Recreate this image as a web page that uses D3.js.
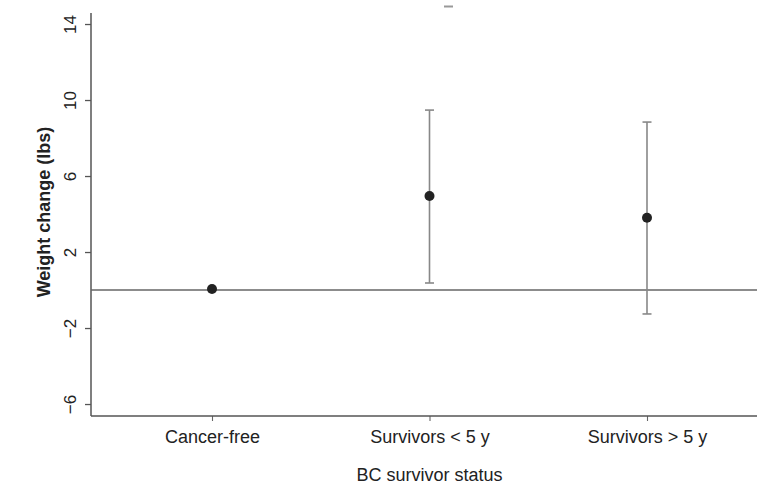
<!DOCTYPE html>
<html>
<head>
<meta charset="utf-8">
<script src="https://cdn.jsdelivr.net/npm/d3@7"></script>
<style>
  html, body { margin: 0; padding: 0; background: #fff; }
  svg { display: block; }
  text { font-family: "Liberation Sans", Arial, Helvetica, sans-serif; fill: #222; }
</style>
</head>
<body>
<svg id="chart" width="757" height="491"></svg>
<script>
// Weight change by breast cancer survivor status: point estimates with 95% CIs
const categories = ["Cancer-free", "Survivors < 5 y", "Survivors > 5 y"];
const estimates  = [0.05, 4.95, 3.8];
const ciLower    = [null, 0.37, -1.26];
const ciUpper    = [null, 9.47, 8.84];
const yTicks     = [-6, -2, 2, 6, 10, 14];
const yTickLabels = ["\u22126", "\u22122", "2", "6", "10", "14"];

const svg = d3.select("#chart");
const plotLeft = 91, plotRight = 757, plotTop = 13, plotBottom = 416;

const y = d3.scaleLinear().domain([-6.63, 14.58]).range([plotBottom, plotTop]);
const x = d3.scalePoint().domain(categories).range([212, 647]);

// y axis with rotated tick labels
const yAxis = svg.append("g")
  .attr("transform", `translate(${plotLeft},0)`)
  .call(d3.axisLeft(y).tickValues(yTicks).tickSize(6)
    .tickFormat((d, i) => yTickLabels[i]));
yAxis.select(".domain").remove();
yAxis.selectAll(".tick line").attr("stroke", "#555").attr("stroke-width", 1.3);
yAxis.selectAll(".tick text")
  .attr("font-size", 17)
  .attr("fill", "#222")
  .attr("text-anchor", "middle")
  .attr("x", 0)
  .attr("y", 0)
  .attr("dy", "0.35em")
  .attr("transform", "translate(-21,0) rotate(-90)")
  .style("font-family", "'Liberation Sans', Arial, sans-serif");
svg.append("line")
  .attr("x1", plotLeft).attr("x2", plotLeft)
  .attr("y1", plotTop).attr("y2", plotBottom)
  .attr("stroke", "#555").attr("stroke-width", 1.5);

// x axis
const xAxis = svg.append("g")
  .attr("transform", `translate(0,${plotBottom})`)
  .call(d3.axisBottom(x).tickSize(5).tickPadding(9));
xAxis.select(".domain").remove();
xAxis.selectAll(".tick line").attr("stroke", "#666").attr("stroke-width", 1.1);
xAxis.selectAll(".tick text")
  .attr("font-size", 18)
  .attr("fill", "#222")
  .style("font-family", "'Liberation Sans', Arial, sans-serif");
svg.append("line")
  .attr("x1", plotLeft).attr("x2", plotRight)
  .attr("y1", plotBottom).attr("y2", plotBottom)
  .attr("stroke", "#555").attr("stroke-width", 1.5);

// reference line at zero
svg.append("line")
  .attr("x1", plotLeft).attr("x2", plotRight)
  .attr("y1", y(0)).attr("y2", y(0))
  .attr("stroke", "#666").attr("stroke-width", 1.4);

// axis titles
svg.append("text")
  .attr("x", x(categories[1]))
  .attr("y", 481)
  .attr("text-anchor", "middle")
  .attr("font-size", 18)
  .text("BC survivor status");
svg.append("text")
  .attr("transform", "translate(50,212) rotate(-90)")
  .attr("text-anchor", "middle")
  .attr("font-size", 18)
  .attr("font-weight", "bold")
  .text("Weight change (lbs)");

// faint mark at the top edge
svg.append("line")
  .attr("x1", 444).attr("x2", 453)
  .attr("y1", 6.5).attr("y2", 6.5)
  .attr("stroke", "#999").attr("stroke-width", 2);

// confidence intervals
const ci = categories.map((c, i) => ({ c, lo: ciLower[i], hi: ciUpper[i] }))
  .filter(d => d.lo !== null);
const g = svg.append("g");
g.selectAll("line.ci").data(ci).join("line")
  .attr("class", "ci")
  .attr("x1", d => x(d.c)).attr("x2", d => x(d.c))
  .attr("y1", d => y(d.lo)).attr("y2", d => y(d.hi))
  .attr("stroke", "#888").attr("stroke-width", 1.6);
["lo", "hi"].forEach(k => {
  g.selectAll("line.cap-" + k).data(ci).join("line")
    .attr("class", "cap-" + k)
    .attr("x1", d => x(d.c) - 4.5).attr("x2", d => x(d.c) + 4.5)
    .attr("y1", d => y(d[k])).attr("y2", d => y(d[k]))
    .attr("stroke", "#888").attr("stroke-width", 1.6);
});

// point estimates
svg.selectAll("circle.est").data(categories).join("circle")
  .attr("class", "est")
  .attr("cx", d => x(d))
  .attr("cy", (d, i) => y(estimates[i]))
  .attr("r", 5)
  .attr("fill", "#222");
</script>
</body>
</html>
